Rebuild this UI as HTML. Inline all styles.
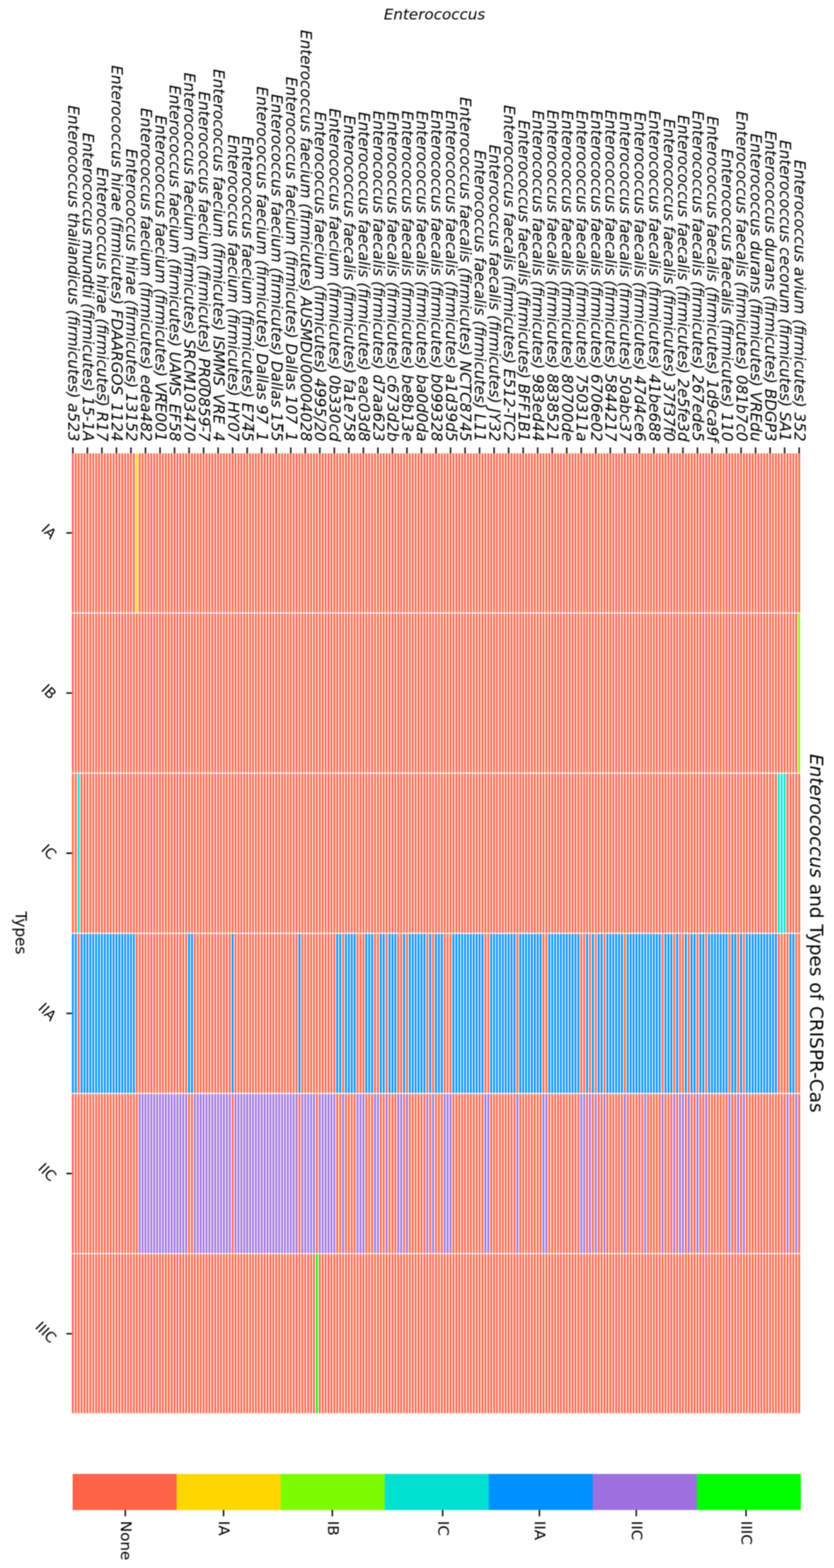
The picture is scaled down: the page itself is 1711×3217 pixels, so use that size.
<!DOCTYPE html><html><head><meta charset="utf-8"><title>Enterococcus and Types of CRISPR-Cas</title><style>
html,body{margin:0;padding:0;background:#fff;overflow:hidden;}svg{display:block;}#fig{filter:blur(1px);width:1711px;height:3217px;}
text{font-family:"DejaVu Sans","Liberation Sans",sans-serif;fill:#000;}
.it{font-style:italic;}
</style></head><body><div id="fig">
<svg width="1711" height="3217" viewBox="0 0 1711 3217">
<rect width="1711" height="3217" fill="#fff"/>
<rect x="146.50" y="929.00" width="1495.96" height="328.60" fill="#FF6347"/>
<rect x="277.62" y="929.00" width="5.96" height="328.60" fill="#FFD700"/>
<rect x="146.50" y="1257.60" width="1495.96" height="328.60" fill="#FF6347"/>
<rect x="1636.50" y="1257.60" width="5.96" height="328.60" fill="#7CFC00"/>
<rect x="146.50" y="1586.20" width="1495.96" height="328.60" fill="#FF6347"/>
<rect x="158.42" y="1586.20" width="5.96" height="328.60" fill="#00E0D0"/>
<rect x="1594.78" y="1586.20" width="17.88" height="328.60" fill="#00E0D0"/>
<rect x="146.50" y="1914.80" width="1495.96" height="328.60" fill="#FF6347"/>
<rect x="146.50" y="1914.80" width="11.92" height="328.60" fill="#0090FF"/>
<rect x="164.38" y="1914.80" width="113.24" height="328.60" fill="#0090FF"/>
<rect x="384.90" y="1914.80" width="11.92" height="328.60" fill="#0090FF"/>
<rect x="474.30" y="1914.80" width="5.96" height="328.60" fill="#0090FF"/>
<rect x="611.38" y="1914.80" width="5.96" height="328.60" fill="#0090FF"/>
<rect x="688.86" y="1914.80" width="11.92" height="328.60" fill="#0090FF"/>
<rect x="706.74" y="1914.80" width="23.84" height="328.60" fill="#0090FF"/>
<rect x="748.46" y="1914.80" width="17.88" height="328.60" fill="#0090FF"/>
<rect x="778.26" y="1914.80" width="11.92" height="328.60" fill="#0090FF"/>
<rect x="796.14" y="1914.80" width="17.88" height="328.60" fill="#0090FF"/>
<rect x="825.94" y="1914.80" width="5.96" height="328.60" fill="#0090FF"/>
<rect x="837.86" y="1914.80" width="35.76" height="328.60" fill="#0090FF"/>
<rect x="879.58" y="1914.80" width="5.96" height="328.60" fill="#0090FF"/>
<rect x="891.50" y="1914.80" width="17.88" height="328.60" fill="#0090FF"/>
<rect x="927.26" y="1914.80" width="65.56" height="328.60" fill="#0090FF"/>
<rect x="1004.74" y="1914.80" width="53.64" height="328.60" fill="#0090FF"/>
<rect x="1064.34" y="1914.80" width="47.68" height="328.60" fill="#0090FF"/>
<rect x="1123.94" y="1914.80" width="65.56" height="328.60" fill="#0090FF"/>
<rect x="1201.42" y="1914.80" width="5.96" height="328.60" fill="#0090FF"/>
<rect x="1213.34" y="1914.80" width="5.96" height="328.60" fill="#0090FF"/>
<rect x="1225.26" y="1914.80" width="11.92" height="328.60" fill="#0090FF"/>
<rect x="1243.14" y="1914.80" width="35.76" height="328.60" fill="#0090FF"/>
<rect x="1284.86" y="1914.80" width="71.52" height="328.60" fill="#0090FF"/>
<rect x="1362.34" y="1914.80" width="17.88" height="328.60" fill="#0090FF"/>
<rect x="1386.18" y="1914.80" width="5.96" height="328.60" fill="#0090FF"/>
<rect x="1404.06" y="1914.80" width="5.96" height="328.60" fill="#0090FF"/>
<rect x="1415.98" y="1914.80" width="11.92" height="328.60" fill="#0090FF"/>
<rect x="1433.86" y="1914.80" width="11.92" height="328.60" fill="#0090FF"/>
<rect x="1451.74" y="1914.80" width="41.72" height="328.60" fill="#0090FF"/>
<rect x="1499.42" y="1914.80" width="11.92" height="328.60" fill="#0090FF"/>
<rect x="1517.30" y="1914.80" width="5.96" height="328.60" fill="#0090FF"/>
<rect x="1529.22" y="1914.80" width="65.56" height="328.60" fill="#0090FF"/>
<rect x="1618.62" y="1914.80" width="11.92" height="328.60" fill="#0090FF"/>
<rect x="146.50" y="2243.40" width="1495.96" height="328.60" fill="#FF6347"/>
<rect x="283.58" y="2243.40" width="101.32" height="328.60" fill="#9D70DF"/>
<rect x="396.82" y="2243.40" width="77.48" height="328.60" fill="#9D70DF"/>
<rect x="480.26" y="2243.40" width="131.12" height="328.60" fill="#9D70DF"/>
<rect x="617.34" y="2243.40" width="29.80" height="328.60" fill="#9D70DF"/>
<rect x="653.10" y="2243.40" width="35.76" height="328.60" fill="#9D70DF"/>
<rect x="700.78" y="2243.40" width="5.96" height="328.60" fill="#9D70DF"/>
<rect x="730.58" y="2243.40" width="17.88" height="328.60" fill="#9D70DF"/>
<rect x="766.34" y="2243.40" width="11.92" height="328.60" fill="#9D70DF"/>
<rect x="790.18" y="2243.40" width="5.96" height="328.60" fill="#9D70DF"/>
<rect x="814.02" y="2243.40" width="11.92" height="328.60" fill="#9D70DF"/>
<rect x="831.90" y="2243.40" width="5.96" height="328.60" fill="#9D70DF"/>
<rect x="873.62" y="2243.40" width="5.96" height="328.60" fill="#9D70DF"/>
<rect x="885.54" y="2243.40" width="5.96" height="328.60" fill="#9D70DF"/>
<rect x="909.38" y="2243.40" width="17.88" height="328.60" fill="#9D70DF"/>
<rect x="992.82" y="2243.40" width="11.92" height="328.60" fill="#9D70DF"/>
<rect x="1058.38" y="2243.40" width="5.96" height="328.60" fill="#9D70DF"/>
<rect x="1112.02" y="2243.40" width="11.92" height="328.60" fill="#9D70DF"/>
<rect x="1189.50" y="2243.40" width="11.92" height="328.60" fill="#9D70DF"/>
<rect x="1207.38" y="2243.40" width="5.96" height="328.60" fill="#9D70DF"/>
<rect x="1219.30" y="2243.40" width="5.96" height="328.60" fill="#9D70DF"/>
<rect x="1237.18" y="2243.40" width="5.96" height="328.60" fill="#9D70DF"/>
<rect x="1278.90" y="2243.40" width="5.96" height="328.60" fill="#9D70DF"/>
<rect x="1320.62" y="2243.40" width="5.96" height="328.60" fill="#9D70DF"/>
<rect x="1356.38" y="2243.40" width="5.96" height="328.60" fill="#9D70DF"/>
<rect x="1380.22" y="2243.40" width="5.96" height="328.60" fill="#9D70DF"/>
<rect x="1392.14" y="2243.40" width="11.92" height="328.60" fill="#9D70DF"/>
<rect x="1410.02" y="2243.40" width="5.96" height="328.60" fill="#9D70DF"/>
<rect x="1427.90" y="2243.40" width="5.96" height="328.60" fill="#9D70DF"/>
<rect x="1445.78" y="2243.40" width="5.96" height="328.60" fill="#9D70DF"/>
<rect x="1493.46" y="2243.40" width="5.96" height="328.60" fill="#9D70DF"/>
<rect x="1511.34" y="2243.40" width="5.96" height="328.60" fill="#9D70DF"/>
<rect x="1523.26" y="2243.40" width="5.96" height="328.60" fill="#9D70DF"/>
<rect x="1612.66" y="2243.40" width="5.96" height="328.60" fill="#9D70DF"/>
<rect x="1630.54" y="2243.40" width="5.96" height="328.60" fill="#9D70DF"/>
<rect x="146.50" y="2572.00" width="1495.96" height="328.60" fill="#FF6347"/>
<rect x="647.14" y="2572.00" width="5.96" height="328.60" fill="#00FF00"/>
<path d="M146.50 927.00V2902.60M152.46 927.00V2902.60M158.42 927.00V2902.60M164.38 927.00V2902.60M170.34 927.00V2902.60M176.30 927.00V2902.60M182.26 927.00V2902.60M188.22 927.00V2902.60M194.18 927.00V2902.60M200.14 927.00V2902.60M206.10 927.00V2902.60M212.06 927.00V2902.60M218.02 927.00V2902.60M223.98 927.00V2902.60M229.94 927.00V2902.60M235.90 927.00V2902.60M241.86 927.00V2902.60M247.82 927.00V2902.60M253.78 927.00V2902.60M259.74 927.00V2902.60M265.70 927.00V2902.60M271.66 927.00V2902.60M277.62 927.00V2902.60M283.58 927.00V2902.60M289.54 927.00V2902.60M295.50 927.00V2902.60M301.46 927.00V2902.60M307.42 927.00V2902.60M313.38 927.00V2902.60M319.34 927.00V2902.60M325.30 927.00V2902.60M331.26 927.00V2902.60M337.22 927.00V2902.60M343.18 927.00V2902.60M349.14 927.00V2902.60M355.10 927.00V2902.60M361.06 927.00V2902.60M367.02 927.00V2902.60M372.98 927.00V2902.60M378.94 927.00V2902.60M384.90 927.00V2902.60M390.86 927.00V2902.60M396.82 927.00V2902.60M402.78 927.00V2902.60M408.74 927.00V2902.60M414.70 927.00V2902.60M420.66 927.00V2902.60M426.62 927.00V2902.60M432.58 927.00V2902.60M438.54 927.00V2902.60M444.50 927.00V2902.60M450.46 927.00V2902.60M456.42 927.00V2902.60M462.38 927.00V2902.60M468.34 927.00V2902.60M474.30 927.00V2902.60M480.26 927.00V2902.60M486.22 927.00V2902.60M492.18 927.00V2902.60M498.14 927.00V2902.60M504.10 927.00V2902.60M510.06 927.00V2902.60M516.02 927.00V2902.60M521.98 927.00V2902.60M527.94 927.00V2902.60M533.90 927.00V2902.60M539.86 927.00V2902.60M545.82 927.00V2902.60M551.78 927.00V2902.60M557.74 927.00V2902.60M563.70 927.00V2902.60M569.66 927.00V2902.60M575.62 927.00V2902.60M581.58 927.00V2902.60M587.54 927.00V2902.60M593.50 927.00V2902.60M599.46 927.00V2902.60M605.42 927.00V2902.60M611.38 927.00V2902.60M617.34 927.00V2902.60M623.30 927.00V2902.60M629.26 927.00V2902.60M635.22 927.00V2902.60M641.18 927.00V2902.60M647.14 927.00V2902.60M653.10 927.00V2902.60M659.06 927.00V2902.60M665.02 927.00V2902.60M670.98 927.00V2902.60M676.94 927.00V2902.60M682.90 927.00V2902.60M688.86 927.00V2902.60M694.82 927.00V2902.60M700.78 927.00V2902.60M706.74 927.00V2902.60M712.70 927.00V2902.60M718.66 927.00V2902.60M724.62 927.00V2902.60M730.58 927.00V2902.60M736.54 927.00V2902.60M742.50 927.00V2902.60M748.46 927.00V2902.60M754.42 927.00V2902.60M760.38 927.00V2902.60M766.34 927.00V2902.60M772.30 927.00V2902.60M778.26 927.00V2902.60M784.22 927.00V2902.60M790.18 927.00V2902.60M796.14 927.00V2902.60M802.10 927.00V2902.60M808.06 927.00V2902.60M814.02 927.00V2902.60M819.98 927.00V2902.60M825.94 927.00V2902.60M831.90 927.00V2902.60M837.86 927.00V2902.60M843.82 927.00V2902.60M849.78 927.00V2902.60M855.74 927.00V2902.60M861.70 927.00V2902.60M867.66 927.00V2902.60M873.62 927.00V2902.60M879.58 927.00V2902.60M885.54 927.00V2902.60M891.50 927.00V2902.60M897.46 927.00V2902.60M903.42 927.00V2902.60M909.38 927.00V2902.60M915.34 927.00V2902.60M921.30 927.00V2902.60M927.26 927.00V2902.60M933.22 927.00V2902.60M939.18 927.00V2902.60M945.14 927.00V2902.60M951.10 927.00V2902.60M957.06 927.00V2902.60M963.02 927.00V2902.60M968.98 927.00V2902.60M974.94 927.00V2902.60M980.90 927.00V2902.60M986.86 927.00V2902.60M992.82 927.00V2902.60M998.78 927.00V2902.60M1004.74 927.00V2902.60M1010.70 927.00V2902.60M1016.66 927.00V2902.60M1022.62 927.00V2902.60M1028.58 927.00V2902.60M1034.54 927.00V2902.60M1040.50 927.00V2902.60M1046.46 927.00V2902.60M1052.42 927.00V2902.60M1058.38 927.00V2902.60M1064.34 927.00V2902.60M1070.30 927.00V2902.60M1076.26 927.00V2902.60M1082.22 927.00V2902.60M1088.18 927.00V2902.60M1094.14 927.00V2902.60M1100.10 927.00V2902.60M1106.06 927.00V2902.60M1112.02 927.00V2902.60M1117.98 927.00V2902.60M1123.94 927.00V2902.60M1129.90 927.00V2902.60M1135.86 927.00V2902.60M1141.82 927.00V2902.60M1147.78 927.00V2902.60M1153.74 927.00V2902.60M1159.70 927.00V2902.60M1165.66 927.00V2902.60M1171.62 927.00V2902.60M1177.58 927.00V2902.60M1183.54 927.00V2902.60M1189.50 927.00V2902.60M1195.46 927.00V2902.60M1201.42 927.00V2902.60M1207.38 927.00V2902.60M1213.34 927.00V2902.60M1219.30 927.00V2902.60M1225.26 927.00V2902.60M1231.22 927.00V2902.60M1237.18 927.00V2902.60M1243.14 927.00V2902.60M1249.10 927.00V2902.60M1255.06 927.00V2902.60M1261.02 927.00V2902.60M1266.98 927.00V2902.60M1272.94 927.00V2902.60M1278.90 927.00V2902.60M1284.86 927.00V2902.60M1290.82 927.00V2902.60M1296.78 927.00V2902.60M1302.74 927.00V2902.60M1308.70 927.00V2902.60M1314.66 927.00V2902.60M1320.62 927.00V2902.60M1326.58 927.00V2902.60M1332.54 927.00V2902.60M1338.50 927.00V2902.60M1344.46 927.00V2902.60M1350.42 927.00V2902.60M1356.38 927.00V2902.60M1362.34 927.00V2902.60M1368.30 927.00V2902.60M1374.26 927.00V2902.60M1380.22 927.00V2902.60M1386.18 927.00V2902.60M1392.14 927.00V2902.60M1398.10 927.00V2902.60M1404.06 927.00V2902.60M1410.02 927.00V2902.60M1415.98 927.00V2902.60M1421.94 927.00V2902.60M1427.90 927.00V2902.60M1433.86 927.00V2902.60M1439.82 927.00V2902.60M1445.78 927.00V2902.60M1451.74 927.00V2902.60M1457.70 927.00V2902.60M1463.66 927.00V2902.60M1469.62 927.00V2902.60M1475.58 927.00V2902.60M1481.54 927.00V2902.60M1487.50 927.00V2902.60M1493.46 927.00V2902.60M1499.42 927.00V2902.60M1505.38 927.00V2902.60M1511.34 927.00V2902.60M1517.30 927.00V2902.60M1523.26 927.00V2902.60M1529.22 927.00V2902.60M1535.18 927.00V2902.60M1541.14 927.00V2902.60M1547.10 927.00V2902.60M1553.06 927.00V2902.60M1559.02 927.00V2902.60M1564.98 927.00V2902.60M1570.94 927.00V2902.60M1576.90 927.00V2902.60M1582.86 927.00V2902.60M1588.82 927.00V2902.60M1594.78 927.00V2902.60M1600.74 927.00V2902.60M1606.70 927.00V2902.60M1612.66 927.00V2902.60M1618.62 927.00V2902.60M1624.58 927.00V2902.60M1630.54 927.00V2902.60M1636.50 927.00V2902.60M1642.46 927.00V2902.60M144.50 929.00H1644.46M144.50 1257.60H1644.46M144.50 1586.20H1644.46M144.50 1914.80H1644.46M144.50 2243.40H1644.46M144.50 2572.00H1644.46M144.50 2900.60H1644.46" stroke="#fff" stroke-width="2.20" fill="none"/>
<text class="it" font-size="31.30" text-anchor="end" transform="translate(139.88 906.00) rotate(90)">Enterococcus thailandicus (firmicutes) a523</text>
<text class="it" font-size="31.30" text-anchor="end" transform="translate(169.68 906.00) rotate(90)">Enterococcus mundtii (firmicutes) 15-1A</text>
<text class="it" font-size="31.30" text-anchor="end" transform="translate(199.48 906.00) rotate(90)">Enterococcus hirae (firmicutes) R17</text>
<text class="it" font-size="31.30" text-anchor="end" transform="translate(229.28 906.00) rotate(90)">Enterococcus hirae (firmicutes) FDAARGOS_1124</text>
<text class="it" font-size="31.30" text-anchor="end" transform="translate(259.08 906.00) rotate(90)">Enterococcus hirae (firmicutes) 13152</text>
<text class="it" font-size="31.30" text-anchor="end" transform="translate(288.88 906.00) rotate(90)">Enterococcus faecium (firmicutes) edea482</text>
<text class="it" font-size="31.30" text-anchor="end" transform="translate(318.68 906.00) rotate(90)">Enterococcus faecium (firmicutes) VRE001</text>
<text class="it" font-size="31.30" text-anchor="end" transform="translate(348.48 906.00) rotate(90)">Enterococcus faecium (firmicutes) UAMS_EF58</text>
<text class="it" font-size="31.30" text-anchor="end" transform="translate(378.28 906.00) rotate(90)">Enterococcus faecium (firmicutes) SRCM103470</text>
<text class="it" font-size="31.30" text-anchor="end" transform="translate(408.08 906.00) rotate(90)">Enterococcus faecium (firmicutes) PR00859-7</text>
<text class="it" font-size="31.30" text-anchor="end" transform="translate(437.88 906.00) rotate(90)">Enterococcus faecium (firmicutes) ISMMS_VRE_4</text>
<text class="it" font-size="31.30" text-anchor="end" transform="translate(467.68 906.00) rotate(90)">Enterococcus faecium (firmicutes) HY07</text>
<text class="it" font-size="31.30" text-anchor="end" transform="translate(497.48 906.00) rotate(90)">Enterococcus faecium (firmicutes) E745</text>
<text class="it" font-size="31.30" text-anchor="end" transform="translate(527.28 906.00) rotate(90)">Enterococcus faecium (firmicutes) Dallas 97_1</text>
<text class="it" font-size="31.30" text-anchor="end" transform="translate(557.08 906.00) rotate(90)">Enterococcus faecium (firmicutes) Dallas 155</text>
<text class="it" font-size="31.30" text-anchor="end" transform="translate(586.88 906.00) rotate(90)">Enterococcus faecium (firmicutes) Dallas 107_1</text>
<text class="it" font-size="31.30" text-anchor="end" transform="translate(616.68 906.00) rotate(90)">Enterococcus faecium (firmicutes) AUSMDU00004028</text>
<text class="it" font-size="31.30" text-anchor="end" transform="translate(646.48 906.00) rotate(90)">Enterococcus faecium (firmicutes) 4995/20</text>
<text class="it" font-size="31.30" text-anchor="end" transform="translate(676.28 906.00) rotate(90)">Enterococcus faecium (firmicutes) 0b330cd</text>
<text class="it" font-size="31.30" text-anchor="end" transform="translate(706.08 906.00) rotate(90)">Enterococcus faecalis (firmicutes) fa1e758</text>
<text class="it" font-size="31.30" text-anchor="end" transform="translate(735.88 906.00) rotate(90)">Enterococcus faecalis (firmicutes) eac03d8</text>
<text class="it" font-size="31.30" text-anchor="end" transform="translate(765.68 906.00) rotate(90)">Enterococcus faecalis (firmicutes) d7aa623</text>
<text class="it" font-size="31.30" text-anchor="end" transform="translate(795.48 906.00) rotate(90)">Enterococcus faecalis (firmicutes) c673d2b</text>
<text class="it" font-size="31.30" text-anchor="end" transform="translate(825.28 906.00) rotate(90)">Enterococcus faecalis (firmicutes) be8b13e</text>
<text class="it" font-size="31.30" text-anchor="end" transform="translate(855.08 906.00) rotate(90)">Enterococcus faecalis (firmicutes) ba0d0da</text>
<text class="it" font-size="31.30" text-anchor="end" transform="translate(884.88 906.00) rotate(90)">Enterococcus faecalis (firmicutes) b099328</text>
<text class="it" font-size="31.30" text-anchor="end" transform="translate(914.68 906.00) rotate(90)">Enterococcus faecalis (firmicutes) a1d39d5</text>
<text class="it" font-size="31.30" text-anchor="end" transform="translate(944.48 906.00) rotate(90)">Enterococcus faecalis (firmicutes) NCTC8745</text>
<text class="it" font-size="31.30" text-anchor="end" transform="translate(974.28 906.00) rotate(90)">Enterococcus faecalis (firmicutes) L11</text>
<text class="it" font-size="31.30" text-anchor="end" transform="translate(1004.08 906.00) rotate(90)">Enterococcus faecalis (firmicutes) JY32</text>
<text class="it" font-size="31.30" text-anchor="end" transform="translate(1033.88 906.00) rotate(90)">Enterococcus faecalis (firmicutes) E512-TC2</text>
<text class="it" font-size="31.30" text-anchor="end" transform="translate(1063.68 906.00) rotate(90)">Enterococcus faecalis (firmicutes) BFF1B1</text>
<text class="it" font-size="31.30" text-anchor="end" transform="translate(1093.48 906.00) rotate(90)">Enterococcus faecalis (firmicutes) 983ed44</text>
<text class="it" font-size="31.30" text-anchor="end" transform="translate(1123.28 906.00) rotate(90)">Enterococcus faecalis (firmicutes) 8838521</text>
<text class="it" font-size="31.30" text-anchor="end" transform="translate(1153.08 906.00) rotate(90)">Enterococcus faecalis (firmicutes) 80700de</text>
<text class="it" font-size="31.30" text-anchor="end" transform="translate(1182.88 906.00) rotate(90)">Enterococcus faecalis (firmicutes) 750311a</text>
<text class="it" font-size="31.30" text-anchor="end" transform="translate(1212.68 906.00) rotate(90)">Enterococcus faecalis (firmicutes) 6706e02</text>
<text class="it" font-size="31.30" text-anchor="end" transform="translate(1242.48 906.00) rotate(90)">Enterococcus faecalis (firmicutes) 5844217</text>
<text class="it" font-size="31.30" text-anchor="end" transform="translate(1272.28 906.00) rotate(90)">Enterococcus faecalis (firmicutes) 50abc37</text>
<text class="it" font-size="31.30" text-anchor="end" transform="translate(1302.08 906.00) rotate(90)">Enterococcus faecalis (firmicutes) 47d4ce6</text>
<text class="it" font-size="31.30" text-anchor="end" transform="translate(1331.88 906.00) rotate(90)">Enterococcus faecalis (firmicutes) 41be688</text>
<text class="it" font-size="31.30" text-anchor="end" transform="translate(1361.68 906.00) rotate(90)">Enterococcus faecalis (firmicutes) 37f37f0</text>
<text class="it" font-size="31.30" text-anchor="end" transform="translate(1391.48 906.00) rotate(90)">Enterococcus faecalis (firmicutes) 2e5fe3d</text>
<text class="it" font-size="31.30" text-anchor="end" transform="translate(1421.28 906.00) rotate(90)">Enterococcus faecalis (firmicutes) 267ede5</text>
<text class="it" font-size="31.30" text-anchor="end" transform="translate(1451.08 906.00) rotate(90)">Enterococcus faecalis (firmicutes) 1d9ca9f</text>
<text class="it" font-size="31.30" text-anchor="end" transform="translate(1480.88 906.00) rotate(90)">Enterococcus faecalis (firmicutes) 110</text>
<text class="it" font-size="31.30" text-anchor="end" transform="translate(1510.68 906.00) rotate(90)">Enterococcus faecalis (firmicutes) 081b7c0</text>
<text class="it" font-size="31.30" text-anchor="end" transform="translate(1540.48 906.00) rotate(90)">Enterococcus durans (firmicutes) VREdu</text>
<text class="it" font-size="31.30" text-anchor="end" transform="translate(1570.28 906.00) rotate(90)">Enterococcus durans (firmicutes) BDGP3</text>
<text class="it" font-size="31.30" text-anchor="end" transform="translate(1600.08 906.00) rotate(90)">Enterococcus cecorum (firmicutes) SA1</text>
<text class="it" font-size="31.30" text-anchor="end" transform="translate(1629.88 906.00) rotate(90)">Enterococcus avium (firmicutes) 352</text>
<path d="M149.48 918.00V930.00M179.28 918.00V930.00M209.08 918.00V930.00M238.88 918.00V930.00M268.68 918.00V930.00M298.48 918.00V930.00M328.28 918.00V930.00M358.08 918.00V930.00M387.88 918.00V930.00M417.68 918.00V930.00M447.48 918.00V930.00M477.28 918.00V930.00M507.08 918.00V930.00M536.88 918.00V930.00M566.68 918.00V930.00M596.48 918.00V930.00M626.28 918.00V930.00M656.08 918.00V930.00M685.88 918.00V930.00M715.68 918.00V930.00M745.48 918.00V930.00M775.28 918.00V930.00M805.08 918.00V930.00M834.88 918.00V930.00M864.68 918.00V930.00M894.48 918.00V930.00M924.28 918.00V930.00M954.08 918.00V930.00M983.88 918.00V930.00M1013.68 918.00V930.00M1043.48 918.00V930.00M1073.28 918.00V930.00M1103.08 918.00V930.00M1132.88 918.00V930.00M1162.68 918.00V930.00M1192.48 918.00V930.00M1222.28 918.00V930.00M1252.08 918.00V930.00M1281.88 918.00V930.00M1311.68 918.00V930.00M1341.48 918.00V930.00M1371.28 918.00V930.00M1401.08 918.00V930.00M1430.88 918.00V930.00M1460.68 918.00V930.00M1490.48 918.00V930.00M1520.28 918.00V930.00M1550.08 918.00V930.00M1579.88 918.00V930.00M1609.68 918.00V930.00M1639.48 918.00V930.00" stroke="#000" stroke-width="2.8" fill="none"/>
<text class="it" font-size="31.0" text-anchor="middle" x="891.50" y="39.80">Enterococcus</text>
<text font-size="29.3" transform="translate(82.97 1087.38) rotate(45)">IA</text>
<text font-size="29.3" transform="translate(82.93 1415.96) rotate(45)">IB</text>
<text font-size="29.3" transform="translate(82.68 1744.43) rotate(45)">IC</text>
<text font-size="29.3" transform="translate(76.86 2070.12) rotate(45)">IIA</text>
<text font-size="29.3" transform="translate(76.57 2398.57) rotate(45)">IIC</text>
<text font-size="29.3" transform="translate(70.46 2724.12) rotate(45)">IIIC</text>
<path d="M136.00 1093.30H147.50M136.00 1421.90H147.50M136.00 1750.50H147.50M136.00 2079.10H147.50M136.00 2407.70H147.50M136.00 2736.30H147.50" stroke="#000" stroke-width="2.8" fill="none"/>
<text font-size="31.3" text-anchor="middle" transform="translate(32.20 1914.00) rotate(90)">Types</text>
<text font-size="37.9" text-anchor="middle" transform="translate(1661.50 1914.70) rotate(90)"><tspan font-style="italic">Enterococcus</tspan> and Types of CRISPR-Cas</text>
<rect x="149.00" y="3024.00" width="213.93" height="74.00" fill="#FF6347"/>
<rect x="362.43" y="3024.00" width="213.93" height="74.00" fill="#FFD700"/>
<rect x="575.86" y="3024.00" width="213.93" height="74.00" fill="#7CFC00"/>
<rect x="789.29" y="3024.00" width="213.93" height="74.00" fill="#00E0D0"/>
<rect x="1002.71" y="3024.00" width="213.93" height="74.00" fill="#0090FF"/>
<rect x="1216.14" y="3024.00" width="213.93" height="74.00" fill="#9D70DF"/>
<rect x="1429.57" y="3024.00" width="213.43" height="74.00" fill="#00FF00"/>
<text font-size="31.0" transform="translate(247.70 3120.30) rotate(90)">None</text>
<text font-size="31.0" transform="translate(449.40 3120.30) rotate(90)">IA</text>
<text font-size="31.0" transform="translate(672.50 3120.30) rotate(90)">IB</text>
<text font-size="31.0" transform="translate(898.80 3120.30) rotate(90)">IC</text>
<text font-size="31.0" transform="translate(1097.40 3120.30) rotate(90)">IIA</text>
<text font-size="31.0" transform="translate(1296.00 3120.30) rotate(90)">IIC</text>
<text font-size="31.0" transform="translate(1521.20 3120.30) rotate(90)">IIIC</text>
<path d="M257.00 3098.00V3111.00M458.70 3098.00V3111.00M681.80 3098.00V3111.00M908.10 3098.00V3111.00M1106.70 3098.00V3111.00M1305.30 3098.00V3111.00M1530.50 3098.00V3111.00" stroke="#000" stroke-width="2.8" fill="none"/>
</svg></div></body></html>
